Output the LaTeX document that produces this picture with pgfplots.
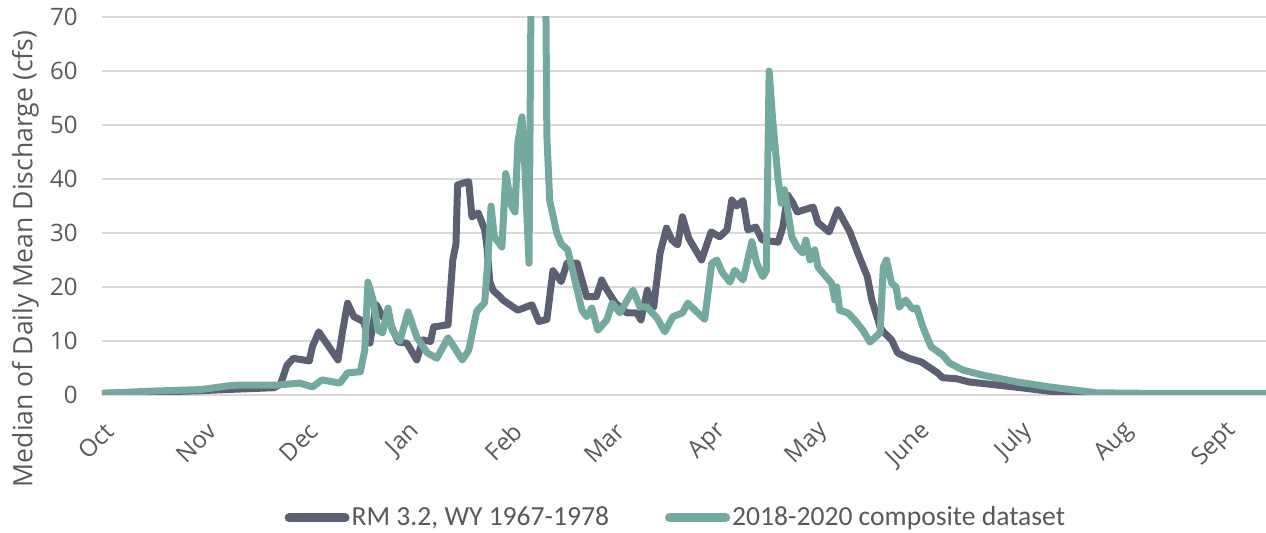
\documentclass[border=0pt]{standalone}
\usepackage{pgfplots}
\pgfplotsset{compat=1.18}
\usepackage{fontspec}
\setmainfont{Open Sans}
\newfontfamily\legfont{Carlito}
\definecolor{darkser}{HTML}{5C6072}
\definecolor{tealser}{HTML}{74A9A0}
\definecolor{txt}{HTML}{595959}
\definecolor{grd}{HTML}{D9D9D9}
\begin{document}
\begin{tikzpicture}
\useasboundingbox (0,0) rectangle (633pt,266.5pt);
\begin{axis}[
 at={(51pt,69pt)}, anchor=south west,
 width=582pt, height=189pt, scale only axis,
 xmin=0, xmax=365, ymin=0, ymax=70,
 ytick={0,10,...,70},
 xtick={0,32,...,352},
 xticklabels={Oct,Nov,Dec,Jan,Feb,Mar,Apr,May,June,July,Aug,Sept},
 axis line style={draw=none},
 major tick length=0pt,
 ymajorgrids, grid style={grd, line width=0.6pt},
 ticklabel style={font=\fontsize{12}{14}\selectfont, text=txt},
 /pgf/number format/assume math mode=true,
 yticklabel style={anchor=east, inner sep=0pt, xshift=-12pt},
 xticklabel style={inner sep=0pt, xshift=4pt, yshift=-16pt, rotate=45, anchor=east},
 ylabel={Median of Daily Mean Discharge (cfs)},
 ylabel style={at={(axis description cs:-0.0657,0.36)}, anchor=center, font=\fontsize{13.3}{15}\selectfont, text=txt},
 legend columns=2,
 legend style={at={(0.493,-0.325)}, anchor=center, draw=none, fill=none, font=\legfont\fontsize{13.8}{16}\selectfont, text=txt, /tikz/every even column/.append style={column sep=27pt}, nodes={inner xsep=1pt}},
 legend image code/.code={\draw[#1, line width=4.5pt, line cap=round] (0pt,0pt) -- (28pt,0pt);},
 every axis plot/.append style={line width=3.5pt, line join=round, line cap=round},
]
\addplot[darkser] coordinates {
(0,0.3) (15,0.5) (31,0.8) (43,1.1) (54,1.35) (56,2.0) (58,5.5) (60,6.8) (63,6.5) (65,6.3) (66,9) (68,11.7) (70.5,9.5) (74,6.5) (75.5,12) (77,17) (79,14.5) (82,13.6) (84,9.6) (86,16.7) (88,14.5) (90,13.6) (93,9.8) (95.6,9.6) (98.7,6.5) (100.6,10.2) (103,9.9) (104,12.6) (108.5,13) (110,25) (111,28) (111.5,38.9) (113,39.2) (115,39.5) (116,33) (118,33.7) (120,30.6) (120.7,27.5) (121.6,21) (122.6,19.4) (124.8,18.2) (125.7,17.6) (130.4,15.7) (134.8,16.7) (137,13.6) (139.5,14) (141.4,23) (144,21) (145.8,24.4) (149,24.4) (152,18.2) (155,18.2) (156.7,21.3) (158,19.8) (161,17) (164.6,15.2) (167.7,15.2) (169,13.9) (171,19.4) (173,16.3) (175,26.3) (177,30.9) (178.7,28.7) (180.5,27.8) (182,33) (184,29) (188,25) (191,30.2) (193.7,29.3) (196,30.6) (197.5,36.1) (199,35) (201,36) (202.5,30.6) (205,31.1) (207,28.7) (212,28.3) (213.5,31.1) (215,37) (216.6,35.6) (218,33.9) (223,34.8) (224.5,31.9) (228,30.2) (230.7,34.3) (234.5,30.2) (237,26.3) (240,21.9) (241.4,17.6) (244,12.6) (245,11.7) (247.6,10.2) (249.5,7.8) (253,6.8) (257,6.1) (262,4.1) (263.6,3.2) (268,3.0) (272,2.4) (280.6,1.85) (288.7,1.3) (297,0.7) (309.7,0.2) (328,0.1) (365,0.1)
};
\addlegendentry{RM 3.2, WY 1967-1978}
\addplot[tealser] coordinates {
(0,0.3) (15,0.7) (31,1.0) (41,1.8) (55,1.85) (62,2.2) (66,1.5) (69,2.8) (74.6,2.2) (77,4.1) (81,4.3) (82.4,8.3) (83.4,20.9) (85,17.6) (86.5,12) (88,11.5) (89.7,16.1) (91,12) (93.4,10) (96,15.4) (98.7,10.7) (102,7.8) (105,6.8) (108.5,10.6) (113,6.5) (115,8.3) (117.5,15.5) (120,17.1) (121,25) (122,35) (123,29.3) (125.4,27.4) (126.6,41) (128.5,34.8) (129.5,33.9) (130.4,46.7) (131.7,51.5) (132.6,42) (133.9,24.4) (135,110) (136.5,150) (138.7,110) (139.5,48) (140.4,36) (142.6,30) (144,28) (146,26.9) (147.6,23) (150.5,15.7) (152,14.5) (153.6,16.1) (155.5,12) (158.3,13.9) (160,17) (162.4,15.2) (166.5,19.4) (168.7,16.3) (170.8,16.3) (174,14.3) (176.5,11.7) (179,14.5) (182,15.2) (183.7,17) (186.5,15.4) (189,14) (191.2,24.4) (192.8,25) (194.4,22.8) (196.9,20.9) (198.4,23.1) (201,21.3) (203.8,28.4) (205.3,24.4) (207.2,21.9) (208.3,23) (209.2,60) (210.3,51) (212,40) (213,35.5) (214,38) (215,34.3) (216.3,29.3) (218,27.4) (219.7,26.3) (220.7,28.7) (222,25) (223.5,26.9) (224.5,23.7) (226,22.6) (228.8,20.7) (229.8,17.6) (230.4,20) (231.3,15.7) (233.9,15.2) (236,13.9) (238.6,12) (240.8,9.8) (244,11.5) (245,23.7) (246,25) (247.6,20.7) (249,20) (250,16.3) (252,17.6) (254,16) (255.5,16.1) (257.4,12.6) (260,8.9) (263.6,7.4) (265.8,5.9) (270,4.6) (276,3.7) (287,2.4) (297,1.5) (312,0.4) (328.5,0.3) (365,0.3)
};
\addlegendentry{2018-2020 composite dataset}
\end{axis}
\end{tikzpicture}
\end{document}
